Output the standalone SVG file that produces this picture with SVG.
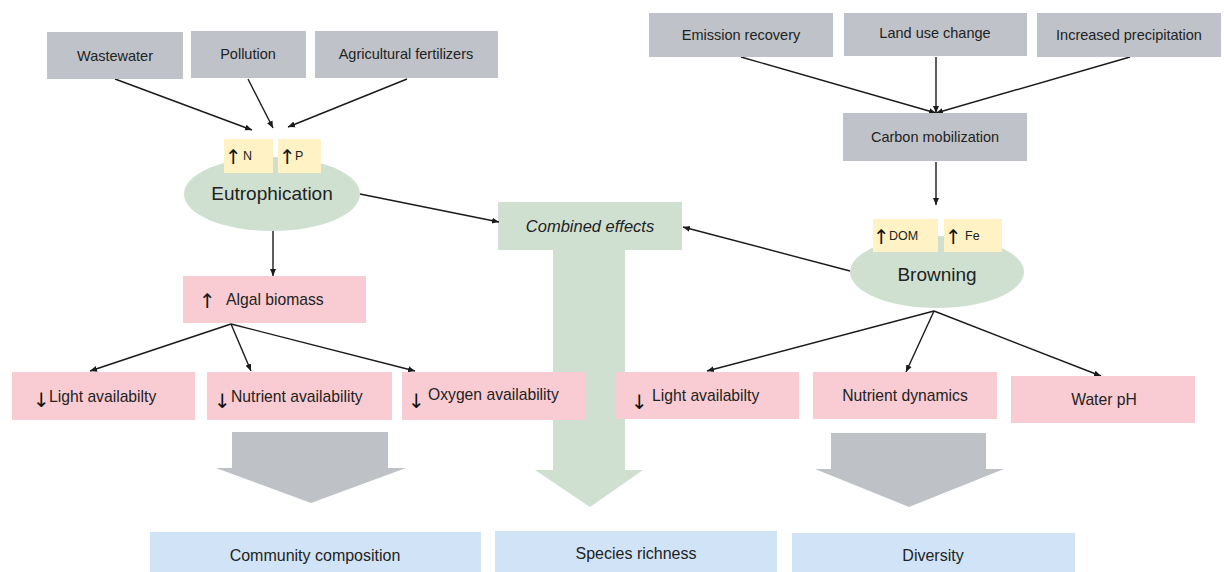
<svg xmlns="http://www.w3.org/2000/svg" width="1224" height="572" viewBox="0 0 1224 572">
<defs>
<marker id="ah" markerWidth="8" markerHeight="8" refX="7" refY="4" orient="auto" markerUnits="userSpaceOnUse">
<path d="M0,1 L7,4 L0,7 Z" fill="#1a1a1a"/>
</marker>
<style>
.grey{fill:#bfc3c9}
.pink{fill:#f9ccd3}
.green{fill:#cfe0d1}
.yellow{fill:#fff2c4}
.blue{fill:#d1e4f7}
.garrow{fill:#bec2c7}
text{font-family:"Liberation Sans",Arial,sans-serif;font-size:14.5px;fill:#222}
.c{text-anchor:middle}
.p{font-size:15.7px}
.b{font-size:16px}
.big{font-size:19px}
.s{font-size:12.5px}
.it{font-style:italic;font-size:16.5px}
.sym{font-family:"DejaVu Sans",sans-serif;font-size:20px;fill:#111}
.con line{stroke:#1a1a1a;stroke-width:1.4;marker-end:url(#ah)}
</style>
</defs>
<rect width="1224" height="572" fill="#fff"/>

<!-- big arrows -->
<g id="combined-effects">
<path class="green" d="M498,202 H682 V250 H625 V470 H643 L590,507 L535,470 H553 V250 H498 Z"/>
<text x="590" y="232" class="c it">Combined effects</text>
</g>
<g id="grey-arrow-left"><path class="garrow" d="M232,432 H388 V468 H406 L311,503 L216,468 H232 Z"/></g>
<g id="grey-arrow-right"><path class="garrow" d="M831,433 H986 V469 H1004 L909,507 L815,469 H831 Z"/></g>

<!-- connectors -->
<g class="con" id="connectors">
<line x1="115" y1="79" x2="252" y2="130"/>
<line x1="248" y1="79" x2="273" y2="128"/>
<line x1="407" y1="79" x2="288" y2="127"/>
<line x1="360" y1="194" x2="499" y2="222"/>
<line x1="273" y1="231" x2="273" y2="276"/>
<line x1="231" y1="324" x2="90" y2="371"/>
<line x1="231" y1="324" x2="251" y2="371"/>
<line x1="231" y1="324" x2="415" y2="371"/>
<line x1="741" y1="57" x2="936" y2="113"/>
<line x1="936" y1="57" x2="936" y2="113"/>
<line x1="1130" y1="57" x2="936" y2="113"/>
<line x1="936" y1="162" x2="936" y2="205"/>
<line x1="850" y1="271" x2="683" y2="227"/>
<line x1="934" y1="311" x2="707" y2="371"/>
<line x1="934" y1="311" x2="906" y2="372"/>
<line x1="934" y1="311" x2="1101" y2="376"/>
</g>

<!-- top left sources -->
<g id="wastewater"><rect class="grey" x="47" y="32" width="136" height="47"/><text x="115" y="61" class="c">Wastewater</text></g>
<g id="pollution"><rect class="grey" x="191" y="31" width="115" height="47"/><text x="248" y="59" class="c">Pollution</text></g>
<g id="agri"><rect class="grey" x="315" y="31" width="183" height="47"/><text x="406" y="59" class="c">Agricultural fertilizers</text></g>

<!-- eutrophication -->
<g id="eutrophication">
<ellipse class="green" cx="272" cy="194" rx="88" ry="37"/>
<rect class="yellow" x="224" y="139" width="49" height="34"/>
<rect class="yellow" x="278" y="139" width="43" height="34"/>
<text x="225" y="164" class="sym">↑</text><text x="243" y="160" class="s">N</text>
<text x="279" y="164" class="sym">↑</text><text x="295" y="160" class="s">P</text>
<text x="272" y="200" class="c big">Eutrophication</text>
</g>

<g id="algal"><rect class="pink" x="183" y="276" width="183" height="47"/><text x="199" y="308" class="sym">↑</text><text x="226" y="305" class="p">Algal biomass</text></g>

<g id="light-left"><rect class="pink" x="12" y="372" width="183" height="48"/><text x="33" y="407" class="sym">↓</text><text x="49" y="402" class="p">Light availabilty</text></g>
<g id="nutrient-avail"><rect class="pink" x="207" y="372" width="185" height="48"/><text x="214" y="408" class="sym">↓</text><text x="231" y="402" class="p">Nutrient availability</text></g>
<g id="oxygen"><rect class="pink" x="402" y="372" width="183" height="48"/><text x="408" y="408" class="sym">↓</text><text x="428" y="400" class="p">Oxygen availability</text></g>

<!-- top right sources -->
<g id="emission"><rect class="grey" x="649" y="13" width="184" height="44"/><text x="741" y="40" class="c">Emission recovery</text></g>
<g id="landuse"><rect class="grey" x="844" y="13" width="183" height="43"/><text x="935" y="38" class="c">Land use change</text></g>
<g id="precip"><rect class="grey" x="1037" y="13" width="184" height="44"/><text x="1129" y="40" class="c">Increased precipitation</text></g>
<g id="carbon"><rect class="grey" x="843" y="113" width="184" height="48"/><text x="935" y="142" class="c">Carbon mobilization</text></g>

<g id="browning">
<ellipse class="green" cx="937" cy="272" rx="87" ry="36"/>
<rect class="yellow" x="873" y="219" width="65" height="33"/>
<rect class="yellow" x="944" y="219" width="58" height="33"/>
<text x="873" y="244" class="sym">↑</text><text x="889" y="240" class="s">DOM</text>
<text x="945" y="244" class="sym">↑</text><text x="965" y="240" class="s">Fe</text>
<text x="937" y="281" class="c big">Browning</text>
</g>

<g id="light-right"><rect class="pink" x="615" y="372" width="184" height="47"/><text x="631" y="409" class="sym">↓</text><text x="652" y="401" class="p">Light availabilty</text></g>
<g id="nutrient-dyn"><rect class="pink" x="813" y="372" width="184" height="47"/><text x="905" y="401" class="c p">Nutrient dynamics</text></g>
<g id="water-ph"><rect class="pink" x="1011" y="376" width="184" height="47"/><text x="1104" y="405" class="c p">Water pH</text></g>

<!-- outcomes -->
<g id="community"><rect class="blue" x="150" y="532" width="331" height="40"/><text x="315" y="561" class="c b">Community composition</text></g>
<g id="richness"><rect class="blue" x="495" y="531" width="282" height="41"/><text x="636" y="559" class="c b">Species richness</text></g>
<g id="diversity"><rect class="blue" x="792" y="533" width="283" height="39"/><text x="933" y="561" class="c b">Diversity</text></g>
</svg>
